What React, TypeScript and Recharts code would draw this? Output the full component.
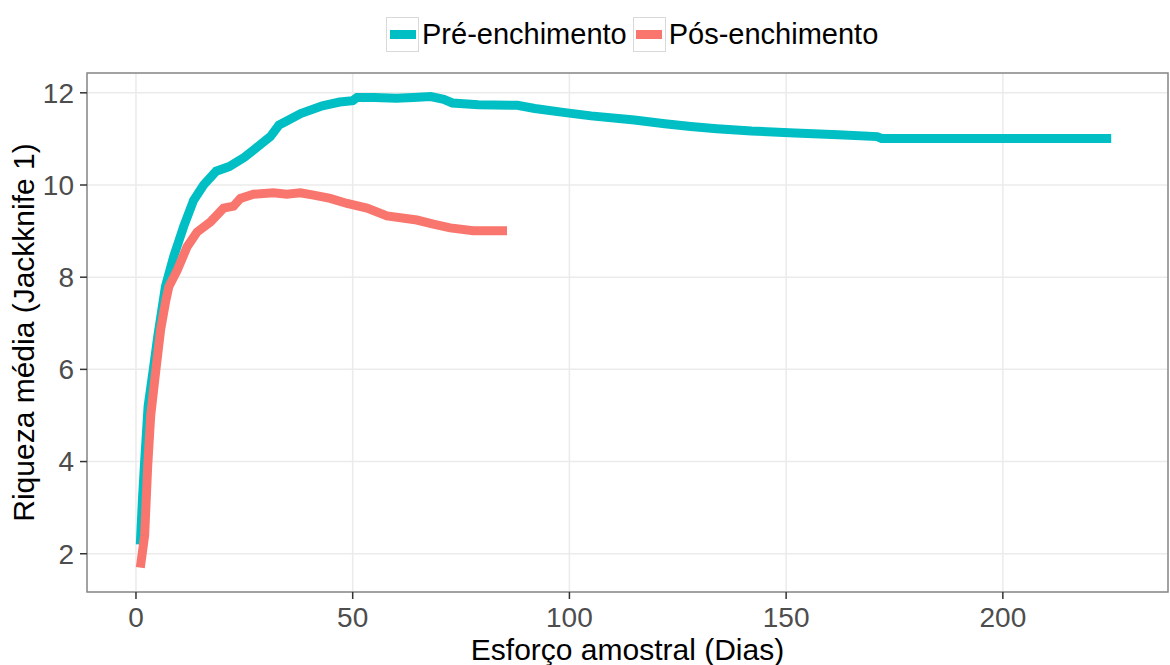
import { CartesianGrid, Label, Line, LineChart, ReferenceArea, XAxis, YAxis } from "recharts";

// Riqueza média acumulada (Jackknife 1) por esforço amostral
const SERIES_NAMES = ["Pré-enchimento", "Pós-enchimento"];
const SERIES_COLORS = ["#00BFC4", "#F8766D"];

const PRE_DAYS = [
  1, 1.5, 2, 2.8, 4, 5, 6.8, 8.7, 11, 13.3, 15.6, 18.5, 21.5, 25, 27, 29, 31, 33, 35, 38, 43, 47, 50, 51,
  55, 60, 64, 68, 71, 73, 79, 88, 92, 99, 105, 115, 122, 128, 134, 142, 152, 162, 171, 172, 225,
];
const PRE_VALUES = [
  2.2, 3.2, 4.0, 5.2, 6.0, 6.7, 7.8, 8.45, 9.1, 9.67, 10.0, 10.3, 10.4, 10.6, 10.75, 10.9, 11.05, 11.3,
  11.4, 11.55, 11.72, 11.8, 11.83, 11.9, 11.9, 11.88, 11.9, 11.92, 11.86, 11.78, 11.74, 11.73, 11.66,
  11.57, 11.5, 11.41, 11.33, 11.27, 11.22, 11.17, 11.13, 11.09, 11.05, 11.01, 11.01,
];

const POS_DAYS = [
  1, 2, 2.7, 3.4, 4.6, 5.7, 6.9, 7.6, 9.5, 11.8, 14.1, 17.2, 20.2, 22.5, 24.1, 27.1, 31.7, 34.8, 37.9,
  41, 44.8, 48.7, 53.3, 57.9, 64.8, 68.6, 72.5, 77.8, 85.6,
];
const POS_VALUES = [
  1.7, 2.4, 3.9, 5.0, 6.0, 6.87, 7.5, 7.8, 8.15, 8.66, 8.98, 9.2, 9.5, 9.54, 9.71, 9.8, 9.83, 9.8, 9.83,
  9.78, 9.71, 9.6, 9.5, 9.33, 9.24, 9.15, 9.07, 9.01, 9.01,
];

const X_TICKS = [0, 50, 100, 150, 200];
const X_MINOR = [25, 75, 125, 175, 225];
const Y_TICKS = [2, 4, 6, 8, 10, 12];
const Y_MINOR = [3, 5, 7, 9, 11];
const X_DOMAIN: [number, number] = [-11.3, 238.1];
const Y_DOMAIN: [number, number] = [1.17, 12.43];

const preData = PRE_DAYS.map((d, i) => ({ dias: d, riqueza: PRE_VALUES[i] }));
const posData = POS_DAYS.map((d, i) => ({ dias: d, riqueza: POS_VALUES[i] }));

const FONT = "'Liberation Sans', Arial, sans-serif";

const minorV = (props: any) => {
  const s = props?.xAxis?.scale;
  return typeof s === "function" ? X_MINOR.map((v) => s(v)) : [];
};
const minorH = (props: any) => {
  const s = props?.yAxis?.scale;
  return typeof s === "function" ? Y_MINOR.map((v) => s(v)) : [];
};

function LegendRow() {
  return (
    <div
      style={{
        position: "absolute",
        top: 17,
        left: 386,
        display: "flex",
        alignItems: "center",
        fontFamily: FONT,
        fontSize: 29,
        color: "#000",
        whiteSpace: "nowrap",
      }}
    >
      {SERIES_NAMES.map((name, i) => (
        <div key={name} style={{ display: "flex", alignItems: "center", marginRight: 6 }}>
          <div
            style={{
              width: 33,
              height: 35,
              border: "1px solid #d9d9d9",
              boxSizing: "border-box",
              display: "flex",
              alignItems: "center",
              justifyContent: "center",
            }}
          >
            <div style={{ width: 26, height: 9, backgroundColor: SERIES_COLORS[i] }} />
          </div>
          <span style={{ marginLeft: 3 }}>{name}</span>
        </div>
      ))}
    </div>
  );
}

export default function App() {
  return (
    <div style={{ position: "absolute", left: 0, top: 0, width: 1170, height: 665, background: "#fff" }}>
      <LineChart width={1170} height={665} margin={{ top: 73, right: 2, bottom: 0, left: 0 }}>
        <CartesianGrid
          stroke="#F4F4F4"
          strokeWidth={1}
          verticalCoordinatesGenerator={minorV}
          horizontalCoordinatesGenerator={minorH}
        />
        <CartesianGrid stroke="#EBEBEB" strokeWidth={1.5} />
        <XAxis
          dataKey="dias"
          type="number"
          domain={X_DOMAIN}
          ticks={X_TICKS}
          allowDataOverflow
          height={73}
          tickSize={7}
          tickMargin={8}
          axisLine={false}
          tickLine={{ stroke: "#333", strokeWidth: 1.5 }}
          tick={{ fill: "#4D4D4D", fontSize: 28, fontFamily: FONT }}
        >
          <Label
            content={({ viewBox }: any) => (
              <text
                x={viewBox.x + viewBox.width / 2}
                y={viewBox.y + 68}
                textAnchor="middle"
                fontSize={30}
                fontFamily={FONT}
                fill="#000"
              >
                Esforço amostral (Dias)
              </text>
            )}
          />
        </XAxis>
        <YAxis
          type="number"
          domain={Y_DOMAIN}
          ticks={Y_TICKS}
          allowDataOverflow
          width={87}
          tickSize={7}
          tickMargin={6}
          axisLine={false}
          tickLine={{ stroke: "#333", strokeWidth: 1.5 }}
          tick={{ fill: "#4D4D4D", fontSize: 28, fontFamily: FONT }}
        >
          <Label
            content={({ viewBox }: any) => (
              <text
                transform={`translate(${viewBox.x + 34}, ${viewBox.y + viewBox.height / 2}) rotate(-90)`}
                textAnchor="middle"
                fontSize={30}
                fontFamily={FONT}
                fill="#000"
              >
                Riqueza média (Jackknife 1)
              </text>
            )}
          />
        </YAxis>
        <Line
          data={preData}
          dataKey="riqueza"
          name={SERIES_NAMES[0]}
          type="linear"
          stroke={SERIES_COLORS[0]}
          strokeWidth={9}
          strokeLinecap="butt"
          dot={false}
          activeDot={false}
          isAnimationActive={false}
        />
        <Line
          data={posData}
          dataKey="riqueza"
          name={SERIES_NAMES[1]}
          type="linear"
          stroke={SERIES_COLORS[1]}
          strokeWidth={9}
          strokeLinecap="butt"
          dot={false}
          activeDot={false}
          isAnimationActive={false}
        />
        <ReferenceArea
          x1={X_DOMAIN[0]}
          x2={X_DOMAIN[1]}
          y1={Y_DOMAIN[0]}
          y2={Y_DOMAIN[1]}
          fill="none"
          stroke="#888"
          strokeWidth={1.5}
          ifOverflow="visible"
        />
      </LineChart>
      <LegendRow />
    </div>
  );
}
